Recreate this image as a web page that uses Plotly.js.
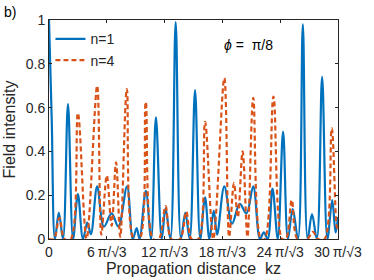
<!DOCTYPE html>
<html>
<head>
<meta charset="utf-8">
<script src="https://cdn.plot.ly/plotly-3.0.1.min.js"></script>
<style>html,body{margin:0;padding:0;background:#fff;}#chart{width:374px;height:280px;}</style>
</head>
<body>
<div id="chart"></div>
<script>
// x in units of pi/sqrt(3)
const n1X = [0,0.28,0.62,1.02,1.45,1.97,2.5,3.0,3.53,3.98,4.35,5.0,5.7,6.5,7.2,8.1,8.7,9.1,9.4,10.05,10.6,11.1,11.7,12.1,12.6,13.15,13.7,14.15,14.6,15.16,15.7,16.2,16.65,17.1,17.45,18.2,19.0,19.8,20.5,21.2,21.9,22.3,22.7,23.2,23.75,24.3,24.8,25.3,25.85,26.35,26.85,27.3,27.8,28.35,28.9,29.4,29.75,30];
const n1Y = [1.0,0.55,0,0.12,0,0.616,0,0.205,0,0.075,0.022,0.24,0.056,0.117,0.056,0.24,0,0.05,0,0.22,0,0.555,0,0.14,0,0.99,0,0.12,0,0.68,0,0.19,0,0.13,0.02,0.24,0.07,0.16,0.117,0.24,0,0.03,0,0.23,0,0.49,0,0.137,0,0.98,0,0.114,0,0.74,0,0.178,0.03,0.1];
const n4X = [0,0.5,1.08,1.6,2.25,3.0,3.9,5.0,5.43,6.0,6.5,6.96,7.4,8.08,8.8,9.4,10.04,10.8,11.4,12.1,12.7,13.6,14.25,14.8,15.5,16.2,17.05,18.2,18.7,19.2,19.6,20.1,20.6,21.2,22.0,22.4,23.3,24.2,24.6,25.2,25.8,26.8,27.4,27.9,28.6,29.35,29.9,30];
const n4Y = [0,0,0.097,0,0,0.575,0,0.70,0.02,0.29,0.06,0.35,0.01,0.685,0,0,0.625,0,0,0.15,0,0,0.125,0,0,0.535,0,0.735,0.01,0.255,0.1,0.40,0.01,0.645,0,0,0.65,0,0,0.178,0,0,0.033,0,0,0.505,0.05,0.06];
const xTickVals = [0,6,12,18,24,30];
const xTickText = ['0','6\u2009π/√3','12\u2009π/√3','18\u2009π/√3','24\u2009π/√3','30\u2009π/√3'];
const yTickVals = [0,0.2,0.4,0.6,0.8,1];
const yTickText = ['0','0.2','0.4','0.6','0.8','1'];

const axisColor = '#262626';
const font = {family: 'Liberation Sans, Arial, sans-serif', size: 14, color: axisColor};

const traces = [
  {x: n1X, y: n1Y, name: 'n=1', type: 'scatter', mode: 'lines',
   line: {color: '#0072BD', width: 2.2, shape: 'spline', smoothing: 1}},
  {x: n4X, y: n4Y, name: 'n=4', type: 'scatter', mode: 'lines',
   line: {color: '#D95319', width: 2.2, dash: '5px,3px', shape: 'spline', smoothing: 1}}
];

const layout = {
  width: 374, height: 280,
  margin: {l: 49, r: 36, t: 20, b: 41},
  paper_bgcolor: '#ffffff', plot_bgcolor: '#ffffff',
  font: font,
  showlegend: true,
  legend: {x: 0.005, y: 0.985, xanchor: 'left', yanchor: 'top', bgcolor: 'rgba(0,0,0,0)',
           font: {family: font.family, size: 14, color: axisColor}, tracegroupgap: 0, itemwidth: 30},
  xaxis: {range: [0, 30], tickvals: xTickVals, ticktext: xTickText, ticks: 'inside', ticklen: 3,
          tickcolor: axisColor, showline: true, linecolor: axisColor, linewidth: 1, mirror: 'ticks',
          showgrid: false, zeroline: false, tickfont: {size: 14, color: axisColor},
          title: {text: 'Propagation distance  kz', font: {size: 16, color: axisColor}, standoff: 2}},
  yaxis: {range: [0, 1], tickvals: yTickVals, ticktext: yTickText, ticks: 'inside', ticklen: 3,
          tickcolor: axisColor, showline: true, linecolor: axisColor, linewidth: 1, mirror: 'ticks',
          showgrid: false, zeroline: false, tickfont: {size: 14, color: axisColor},
          title: {text: 'Field intensity', font: {size: 16, color: axisColor}, standoff: 6}},
  annotations: [
    {xref: 'x', yref: 'y', x: 18.0, y: 0.886, xanchor: 'left', yanchor: 'middle', showarrow: false,
     text: '<i>ϕ</i> =  π/8', font: {size: 14, color: '#000'}},
    {xref: 'paper', yref: 'paper', x: -0.163, y: 1.037, xanchor: 'left', yanchor: 'middle', showarrow: false,
     text: 'b)', font: {size: 14, color: '#000'}}
  ]
};

Plotly.newPlot('chart', traces, layout, {displayModeBar: false, staticPlot: true});
</script>
</body>
</html>
